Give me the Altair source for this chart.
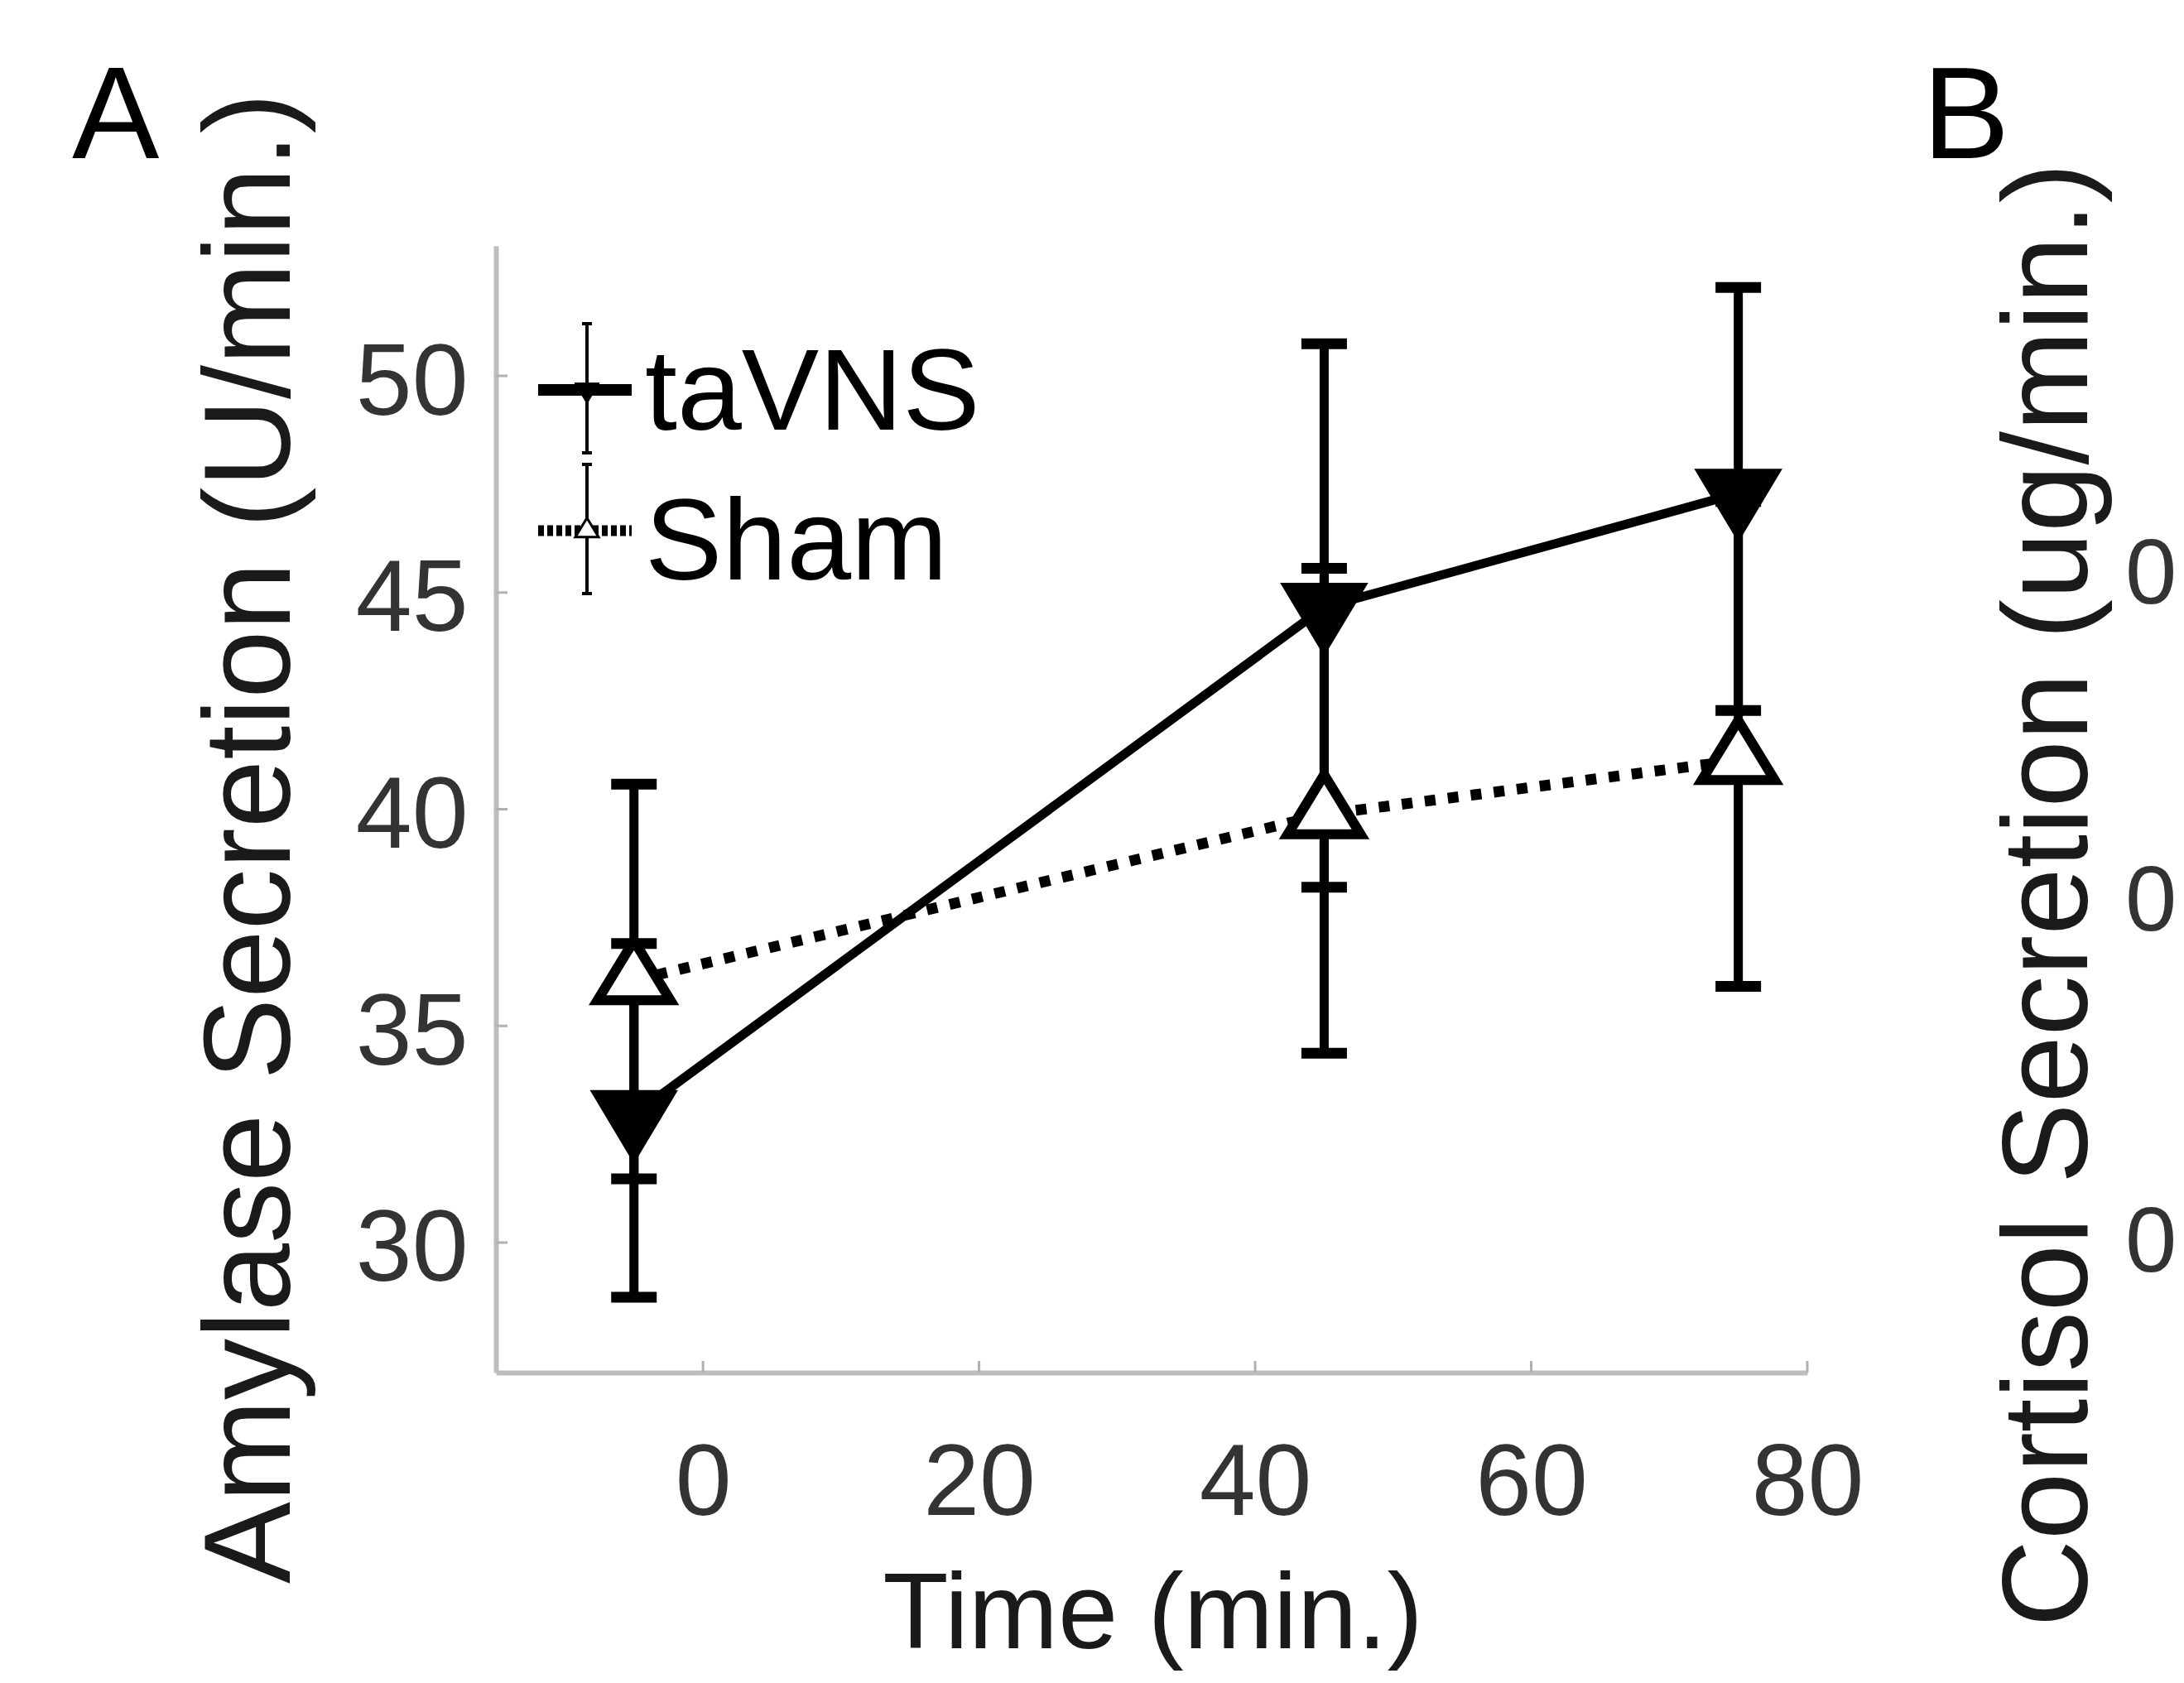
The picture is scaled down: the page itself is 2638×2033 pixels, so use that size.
import altair as alt
import pandas as pd

# ---------------- data ----------------
time_min = [-5, 45, 75]
tavns_mean = [32.95, 44.66, 47.29]
tavns_low = [28.74, 38.20, 42.28]
tavns_high = [36.90, 50.74, 52.04]
sham_mean = [36.05, 39.88, 41.13]
sham_low = [31.47, 34.37, 35.91]
sham_high = [40.58, 45.56, 47.10]
group_names = ["taVNS", "Sham"]
x_tick_values = [0, 20, 40, 60, 80]
y_tick_values = [30, 35, 40, 45, 50]
x_domain = [-15, 80]
y_domain = [27, 53]
panel_letters = ["A", "B"]
x_title = "Time (min.)"
y_title = "Amylase Secretion (U/min.)"
b_title = "Cortisol Secretion (ug/min.)"
b_tick_labels = ["0", "0", "0"]

# ---------------- layout / style ----------------
W, H = 1584, 1361
REG = "Liberation Sans, Arial, sans-serif"
AXIS_GRAY = "#bdbdbd"
LABEL = "#333333"
TITLE = "#1a1a1a"

TRI_DOWN = "M-1,-0.557L1,-0.557L0,1.113Z"
TRI_UP = "M0,-1.091L1,0.545L-1,0.545Z"

def series(name, mean, low, high):
    return pd.DataFrame({"group": name, "time": time_min, "mean": mean,
                         "low": low, "high": high})

tav = series(group_names[0], tavns_mean, tavns_low, tavns_high)
sham = series(group_names[1], sham_mean, sham_low, sham_high)

xs = alt.Scale(domain=x_domain, nice=False, zero=False)
ys = alt.Scale(domain=y_domain, nice=False, zero=False)

x_axis = alt.Axis(values=x_tick_values, title=x_title, grid=False, ticks=False,
                  tickSize=0, domainColor=AXIS_GRAY, domainWidth=6,
                  labelFont=REG, labelFontSize=122, labelColor=LABEL,
                  labelBaseline="alphabetic", labelPadding=171, labelFlush=False,
                  labelOverlap=False, titleFont=REG, titleFontSize=130,
                  titleFontWeight="normal", titleColor=TITLE, titleX=793,
                  titleY=332, titleBaseline="alphabetic", titleAlign="center")
y_axis = alt.Axis(values=y_tick_values, title=y_title, grid=False, ticks=False,
                  tickSize=0, domainColor=AXIS_GRAY, domainWidth=6,
                  labelFont=REG, labelFontSize=122, labelColor=LABEL,
                  labelBaseline="alphabetic", labelOffset=46, labelPadding=34,
                  labelOverlap=False, titleFont=REG, titleFontSize=148,
                  titleFontWeight="normal", titleColor=TITLE, titleX=-250,
                  titleY=715, titleAngle=270, titleBaseline="alphabetic",
                  titleAlign="center")

def X(f):
    return alt.X(f, type="quantitative", scale=xs, axis=x_axis)

def Y(f):
    return alt.Y(f, type="quantitative", scale=ys, axis=y_axis)

layers = []

# inward ticks (MATLAB style)
layers.append(alt.Chart(pd.DataFrame({"v": x_tick_values})).mark_rule(
    color="#b0b0b0", strokeWidth=3).encode(x=X("v"), y=alt.value(H), y2=alt.value(H - 14)))
layers.append(alt.Chart(pd.DataFrame({"v": y_tick_values})).mark_rule(
    color="#b0b0b0", strokeWidth=3).encode(y=Y("v"), x=alt.value(0), x2=alt.value(14)))

def group_layers(df, dash, shape, fill, stroke_w, size, line_w):
    out = []
    out.append(alt.Chart(df).mark_rule(color="black", strokeWidth=11).encode(
        x=X("time"), y=Y("low"), y2=alt.Y2("high")))
    out.append(alt.Chart(df).transform_fold(["low", "high"], as_=["end", "val"]).mark_tick(
        color="black", orient="horizontal", size=55, thickness=13, opacity=1).encode(
        x=X("time"), y=Y("val")))
    line_kw = dict(color="black", strokeWidth=line_w)
    if dash:
        line_kw["strokeDash"] = dash
    out.append(alt.Chart(df).mark_line(**line_kw).encode(x=X("time"), y=Y("mean")))
    out.append(alt.Chart(df).mark_point(shape=shape, filled=True, fill=fill, stroke="black",
                                        strokeWidth=stroke_w, size=size, opacity=1,
                                        strokeJoin="miter").encode(
        x=X("time"), y=Y("mean")))
    return out

layers += group_layers(tav, None, TRI_DOWN, "black", 2, 10609, 11)
layers += group_layers(sham, [13, 15], TRI_UP, "white", 12, 7744, 13)

# ---------------- legend (drawn by hand, MATLAB style) ----------------
def legend_entry(label, row_y, dash, shape, fill, mw, msize, lw, text_base):
    d = pd.DataFrame({"label": [label]})
    out = []
    kw = dict(color="black", strokeWidth=lw)
    if dash:
        kw["strokeDash"] = dash
    out.append(alt.Chart(d).mark_rule(**kw).encode(
        x=alt.value(51), x2=alt.value(164), y=alt.value(row_y)))
    out.append(alt.Chart(d).mark_rule(color="black", strokeWidth=4).encode(
        x=alt.value(110), y=alt.value(row_y - 80), y2=alt.value(row_y + 76)))
    for yy in (row_y - 80, row_y + 76):
        out.append(alt.Chart(d).mark_rule(color="black", strokeWidth=4).encode(
            x=alt.value(104), x2=alt.value(116), y=alt.value(yy)))
    out.append(alt.Chart(d).mark_point(shape=shape, filled=True, fill=fill, stroke="black",
                                       strokeWidth=mw, size=msize, opacity=1).encode(
        x=alt.value(110), y=alt.value(row_y)))
    out.append(alt.Chart(d).mark_text(font=REG, fontSize=140, align="left",
                                      baseline="alphabetic", color="black").encode(
        x=alt.value(180), y=alt.value(text_base), text="label:N"))
    return out

layers += legend_entry(group_names[0], 174, None, TRI_DOWN, "black", 1, 900, 14, 222)
layers += legend_entry(group_names[1], 344, [7, 4], TRI_UP, "white", 3, 784, 13, 403)

# ---------------- panel letters and the clipped neighbour panel ----------------
for letter, px in zip(panel_letters, [-512, 1723]):
    layers.append(alt.Chart(pd.DataFrame({"t": [letter]})).mark_text(
        font=REG, fontSize=158, align="left", baseline="alphabetic", color="black").encode(
        x=alt.value(px), y=alt.value(-106), text="t:N"))

layers.append(alt.Chart(pd.DataFrame({"t": [b_title]})).mark_text(
    font=REG, fontSize=146, angle=270, align="center", baseline="alphabetic",
    color=TITLE).encode(x=alt.value(1922), y=alt.value(784), text="t:N"))

for lab, py in zip(b_tick_labels, [432, 827, 1239]):
    layers.append(alt.Chart(pd.DataFrame({"t": [lab]})).mark_text(
        font=REG, fontSize=112, align="left", baseline="alphabetic", color=LABEL).encode(
        x=alt.value(1968), y=alt.value(py), text="t:N"))

chart = alt.layer(*layers).properties(
    width=W, height=H,
    autosize=alt.AutoSizeParams(type="none"),
    padding={"left": 591, "top": 289, "right": 447, "bottom": 367},
    background="white",
).configure_view(stroke=None)

chart.save("out.html", embed_options={"renderer": "svg", "actions": False})
